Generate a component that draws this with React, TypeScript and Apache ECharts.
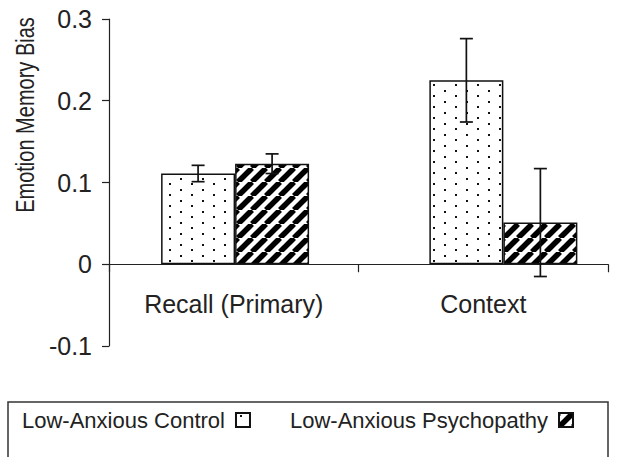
import React, { useEffect, useRef } from "react";
import * as echarts from "echarts";

const categories = ["Recall (Primary)", "Context"];
const seriesNames = ["Low-Anxious Control", "Low-Anxious Psychopathy"];
const yTitle = "Emotion Memory Bias";
const controlValues = [0.111, 0.225];
const controlErrors = [0.01, 0.051];
const psychValues = [0.123, 0.051];
const psychErrors = [0.012, 0.066];
const yTicks = [-0.1, 0, 0.1, 0.2, 0.3];

const FONT = "'Liberation Sans', Arial, Helvetica, sans-serif";
const TEXT = "#222";
const BAR_W = 74;
// hidden positioning axis for bars (the groups in the source are not evenly centred)
const BAR_AXIS_MIN = -0.47;
const BAR_AXIS_MAX = 1.39;

function makeDots(): HTMLCanvasElement {
  const c = document.createElement("canvas");
  c.width = 22;
  c.height = 11;
  const ctx = c.getContext("2d")!;
  ctx.fillStyle = "#fff";
  ctx.fillRect(0, 0, 22, 11);
  ctx.fillStyle = "#111";
  ctx.fillRect(4, 2, 2, 2);
  ctx.fillRect(15, 7, 2, 2);
  return c;
}

function makeStripes(): HTMLCanvasElement {
  const s = 14;
  const c = document.createElement("canvas");
  c.width = s;
  c.height = s;
  const ctx = c.getContext("2d")!;
  ctx.fillStyle = "#fff";
  ctx.fillRect(0, 0, s, s);
  ctx.strokeStyle = "#000";
  ctx.lineWidth = 5.5;
  for (const k of [-1, 0, 1]) {
    ctx.beginPath();
    ctx.moveTo(k * s, s);
    ctx.lineTo(k * s + s, 0);
    ctx.stroke();
  }
  return c;
}

function errorSeries(values: number[], errors: number[], side: number) {
  return {
    type: "custom",
    name: "err" + side,
    xAxisIndex: 1,
    z: 10,
    silent: true,
    encode: { x: 0, y: 1 },
    data: values.map((v, i) => [i, v, errors[i]]),
    renderItem: (params: any, api: any) => {
      const c = api.value(0);
      const v = api.value(1);
      const e = api.value(2);
      const top = api.coord([c, v + e]);
      const bot = api.coord([c, v - e]);
      const x = top[0] + side * (BAR_W / 2);
      const cap = 6.5;
      const st = { stroke: "#111", lineWidth: 1.7 };
      return {
        type: "group",
        children: [
          { type: "line", shape: { x1: x, y1: top[1], x2: x, y2: bot[1] }, style: st },
          { type: "line", shape: { x1: x - cap, y1: top[1], x2: x + cap, y2: top[1] }, style: st },
          { type: "line", shape: { x1: x - cap, y1: bot[1], x2: x + cap, y2: bot[1] }, style: st },
        ],
      };
    },
  };
}

export default function App() {
  const ref = useRef<HTMLDivElement>(null);
  useEffect(() => {
    if (!ref.current) return;
    const chart = echarts.init(ref.current, null, { renderer: "svg" });
    const dots = makeDots();
    const stripes = makeStripes();
    const option: any = {
      animation: false,
      backgroundColor: "#fff",
      grid: { left: 109, right: 33, top: 19, bottom: 111 },
      legend: {
        data: seriesNames,
        left: 22,
        top: 409,
        align: "right",
        icon: "rect",
        itemWidth: 14,
        itemHeight: 14,
        itemGap: 39,
        padding: 0,
        selectedMode: false,
        textStyle: { fontSize: 22, color: TEXT, fontFamily: FONT, padding: [0, 6, 0, 0] },
      },
      graphic: [
        {
          type: "rect",
          shape: { x: 8, y: 402, width: 600, height: 80 },
          style: { fill: "none", stroke: "#333", lineWidth: 1.5 },
          silent: true,
        },
        {
          type: "text",
          x: 25,
          y: 115,
          rotation: Math.PI / 2,
          scaleX: 0.77,
          silent: true,
          style: {
            text: yTitle,
            fontSize: 26,
            fontFamily: FONT,
            fill: TEXT,
            align: "center",
            verticalAlign: "middle",
          },
        },
      ],
      xAxis: [
        {
          type: "category",
          data: categories,
          axisLine: { onZero: true, lineStyle: { color: TEXT, width: 1.2 } },
          axisTick: { show: true, length: 8, lineStyle: { color: TEXT, width: 1.2 } },
          axisLabel: { fontSize: 25, color: TEXT, fontFamily: FONT, margin: -55 },
          splitLine: { show: false },
        },
        {
          type: "value",
          show: false,
          min: BAR_AXIS_MIN,
          max: BAR_AXIS_MAX,
          splitLine: { show: false },
        },
      ],
      yAxis: {
        type: "value",
        min: yTicks[0],
        max: yTicks[yTicks.length - 1],
        interval: 0.1,
        axisLine: { show: true, onZero: false, lineStyle: { color: TEXT, width: 1.2 } },
        axisTick: { show: true, length: 7, lineStyle: { color: TEXT, width: 1.2 } },
        axisLabel: {
          fontSize: 25,
          color: TEXT,
          fontFamily: FONT,
          margin: 17,
          formatter: (v: number) => {
            const r = Math.round(v * 10) / 10;
            return r === 0 ? "0" : String(r);
          },
        },
        splitLine: { show: false },
      },
      series: [
        {
          type: "bar",
          name: seriesNames[0],
          xAxisIndex: 1,
          data: controlValues.map((v, i) => [i, v]),
          barWidth: BAR_W,
          barGap: "0%",
          itemStyle: {
            color: { image: dots, repeat: "repeat", imageWidth: 22, imageHeight: 11 },
            borderColor: "#111",
            borderWidth: 1.5,
          },
        },
        {
          type: "bar",
          name: seriesNames[1],
          xAxisIndex: 1,
          data: psychValues.map((v, i) => [i, v]),
          barWidth: BAR_W,
          barGap: "0%",
          itemStyle: {
            color: { image: stripes, repeat: "repeat", imageWidth: 14, imageHeight: 14 },
            borderColor: "#111",
            borderWidth: 1.5,
          },
        },
        errorSeries(controlValues, controlErrors, -1),
        errorSeries(psychValues, psychErrors, 1),
      ],
    };
    chart.setOption(option);
    return () => chart.dispose();
  }, []);
  return (
    <div
      ref={ref}
      style={{ position: "fixed", left: 0, top: 0, width: 641, height: 457, background: "#fff" }}
    />
  );
}
